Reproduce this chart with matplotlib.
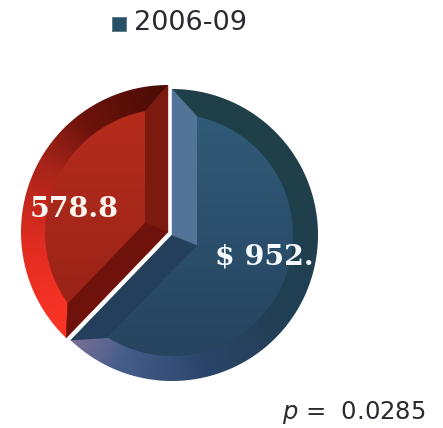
import numpy as np
import matplotlib
matplotlib.use("Agg")
import matplotlib.pyplot as plt
from matplotlib.colors import LinearSegmentedColormap
from matplotlib.patches import Polygon

W, H = 443, 428
categories = ["blue", "red"]
values = [952.0, 578.8]
labels = ["$ 952.", "578.8"]
legend_label = "2006-09"
p_text = r"$p$ =  0.0285"

fig = plt.figure(figsize=(W / 100, H / 100), dpi=100)
ax = fig.add_axes([0, 0, 1, 1])


def Y(y):
    return H - y


def inset_shape(c, r_in, inset, t1, t2):
    """Inner outline of a bevelled wedge, going from angle t1 to t2 (counter-clockwise)."""
    a1, a2 = np.radians(t1), np.radians(t2)
    d1 = np.array([np.cos(a1), np.sin(a1)])
    d2 = np.array([np.cos(a2), np.sin(a2)])
    n1 = np.array([-d1[1], d1[0]])   # into wedge from t1 edge
    n2 = np.array([d2[1], -d2[0]])   # into wedge from t2 edge
    A = np.array([n1, n2])
    vert = np.linalg.solve(A, [inset, inset])
    off = np.degrees(np.arcsin(inset / r_in))
    th = np.radians(np.linspace(t1 + off, t2 - off, 160))
    arc = np.column_stack([r_in * np.cos(th), r_in * np.sin(th)])
    return np.asarray(c) + vert, np.asarray(c) + arc


def gradient(clip, cmap, c, extent_r=175):
    n = 500
    xs = np.linspace(c[0] - extent_r, c[0] + extent_r, n)
    ys = np.linspace(c[1] - extent_r, c[1] + extent_r, n)
    xx, yy = np.meshgrid(xs, ys)
    f = ((np.degrees(np.arctan2(yy - c[1], xx - c[0])) - 90) % 360) / 360
    im = ax.imshow(f, cmap=cmap, vmin=0, vmax=1, origin="lower", aspect="auto",
                   extent=[xs[0], xs[-1], ys[0], ys[-1]], zorder=2, interpolation="bilinear")
    im.set_clip_path(clip)


def bevel(c, radius, r_in, inset, t1, t2, ring, inner, side1, side2):
    """t1 -> t2 counter-clockwise."""
    a = np.radians(np.linspace(t1, t2, 240))
    outer = np.column_stack([c[0] + radius * np.cos(a), c[1] + radius * np.sin(a)])
    full = np.vstack([[c], outer])
    clip = Polygon(full, closed=True, fc="none", ec="none", transform=ax.transData)
    ax.add_patch(clip)
    gradient(clip, ring, c)
    vert, arc = inset_shape(c, r_in, inset, t1, t2)
    # side facets
    ax.add_patch(Polygon([c, outer[0], arc[0], vert], closed=True, fc=side1, ec=side1, lw=0.3, zorder=3))
    ax.add_patch(Polygon([c, outer[-1], arc[-1], vert], closed=True, fc=side2, ec=side2, lw=0.3, zorder=3))
    inner_poly = Polygon(np.vstack([[vert], arc]), closed=True, fc="none", ec="none", transform=ax.transData)
    ax.add_patch(inner_poly)
    n = 300
    ext = [c[0] - radius, c[0] + radius, c[1] - radius, c[1] + radius]
    f = np.linspace(0, 1, n)[:, None]
    im = ax.imshow(f, cmap=inner, vmin=0, vmax=1, origin="lower", aspect="auto", extent=ext, zorder=4)
    im.set_clip_path(inner_poly)


# angles come from a real pie so that the shares drive the geometry
c_blue = (172, Y(235))
wedges, _ = ax.pie(values, startangle=90, counterclock=False, center=c_blue, radius=146,
                   frame=True, wedgeprops=dict(fc="none", ec="none"))
b1, b2 = wedges[0].theta1, wedges[0].theta2
r1, r2 = wedges[1].theta1, wedges[1].theta2

# the angle map runs counter-clockwise from the top
ring_blue_cc = LinearSegmentedColormap.from_list("rbc", [
    (0.00, "#1f4048"), (0.375, "#7d7198"), (0.44, "#455d8a"), (0.54, "#2b4569"),
    (0.64, "#223f55"), (0.80, "#1f3f4a"), (1.00, "#1f4048")])
inner_blue = LinearSegmentedColormap.from_list("ib", ["#25425c", "#2b4f6c", "#325d7a"])
bevel(c_blue, 146, 121, 25, b1, b2, ring_blue_cc, inner_blue, "#233f5b", "#527499")

c_red = (168, Y(232))
ring_red = LinearSegmentedColormap.from_list("rr", [
    (0.00, "#4a0c06"), (0.10, "#6c130b"), (0.17, "#a8241a"), (0.26, "#e02c20"),
    (0.38, "#ff3526"), (1.00, "#ff3526")])
inner_red = LinearSegmentedColormap.from_list("ir", ["#8c1d12", "#a5271a", "#b92d1c"])
bevel(c_red, 147, 123, 23, r1, r2, ring_red, inner_red, "#7d1a10", "#6e120b")

# labels
ax.text(74, Y(209), labels[1], family="DejaVu Serif", weight="bold", fontsize=20.5,
        color="#fdf5ef", ha="center", va="center", zorder=6)
ax.text(215, Y(257), labels[0], family="DejaVu Serif", weight="bold", fontsize=20.5,
        color="#f6fbff", ha="left", va="center", zorder=6)

# legend
ax.add_patch(Polygon([(112, Y(17)), (126, Y(17)), (126, Y(31)), (112, Y(31))], closed=True,
                     fc="#285066", ec="#5a7684", lw=0.6, zorder=3))
ax.text(134, Y(23), legend_label, fontsize=19.5, color="#2a2a30", ha="left", va="center",
        family="DejaVu Sans")

# p value
ax.text(426, Y(412), p_text, fontsize=17.5, color="#2a2a30", ha="right", va="center",
        family="DejaVu Sans")

ax.set_xlim(0, W)
ax.set_ylim(0, H)
ax.axis("off")
fig.savefig("out.png", dpi=100, facecolor="white")
